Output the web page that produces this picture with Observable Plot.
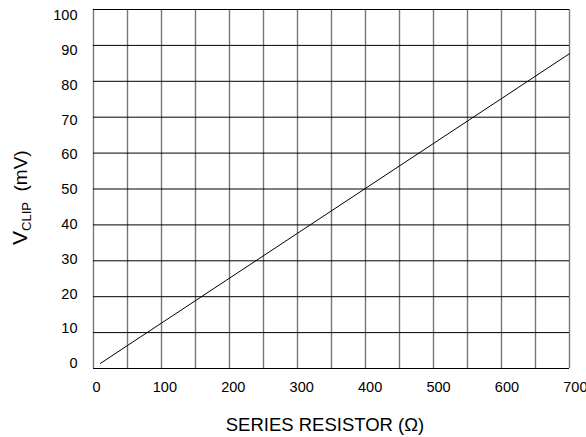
<!DOCTYPE html>
<html>
<head>
<meta charset="utf-8">
<script src="https://cdn.jsdelivr.net/npm/d3@7"></script>
<script src="https://cdn.jsdelivr.net/npm/@observablehq/plot@0.6"></script>
<style>
  html, body { margin: 0; padding: 0; background: #fff; }
  svg { font-family: "Liberation Sans", Arial, sans-serif; }
</style>
</head>
<body>
<div id="chart"></div>
<script>
// Data
const resistance = [10, 700];      // series resistor (Ω)
const vclip = [1.4, 87.7];         // V_CLIP (mV)
const xTicks = [0, 100, 200, 300, 400, 500, 600, 700];
const yTicks = [0, 10, 20, 30, 40, 50, 60, 70, 80, 90, 100];
const xGrid = d3.range(0, 701, 50);
const yGrid = d3.range(0, 101, 10);

const data = resistance.map((r, i) => ({r, v: vclip[i]}));

// In the reference the tick labels sit on a slightly different spacing than the grid
const xLabelAt = d => 4.4 + 1.006 * d;
const yLabelAt = d => 1.4 + 0.969 * d;

const chart = Plot.plot({
  width: 586,
  height: 437,
  marginLeft: 93,
  marginRight: 17,
  marginTop: 9,
  marginBottom: 69,
  style: {fontFamily: "Liberation Sans, Arial, sans-serif", fontSize: "14px", color: "#000", background: "#fff", overflow: "visible"},
  x: {domain: [0, 700], axis: null},
  y: {domain: [0, 100], axis: null},
  marks: [
    Plot.gridX(xGrid, {stroke: "#777", strokeOpacity: 1, strokeWidth: 1.4}),
    Plot.gridY(yGrid, {stroke: "#000", strokeOpacity: 1, strokeWidth: 1}),
    Plot.text(xTicks, {x: xLabelAt, text: d => String(d), frameAnchor: "bottom", dy: 23, fontSize: 14.5, fill: "#000"}),
    Plot.text(yTicks, {y: yLabelAt, text: d => String(d), frameAnchor: "left", textAnchor: "end", dx: -16, fontSize: 14.5, fill: "#000"}),
    Plot.line(data, {x: "r", y: "v", stroke: "#000", strokeWidth: 1})
  ]
});

document.getElementById("chart").appendChild(chart);

const svg = d3.select(chart);
// X axis label
svg.append("text")
  .attr("x", 325).attr("y", 431)
  .attr("text-anchor", "middle")
  .attr("font-size", 18.5)
  .attr("fill", "#000")
  .text("SERIES RESISTOR (Ω)");

// Y axis label with subscript
const yl = svg.append("text")
  .attr("transform", "translate(27,245) rotate(-90)")
  .attr("text-anchor", "start")
  .attr("font-size", 21)
  .attr("fill", "#000");
yl.append("tspan").text("V");
yl.append("tspan").attr("dy", 4).attr("font-size", 13).text("CLIP");
yl.append("tspan").attr("dy", -4).attr("font-size", 19).text("\u00a0\u00a0(mV)");
</script>
</body>
</html>
